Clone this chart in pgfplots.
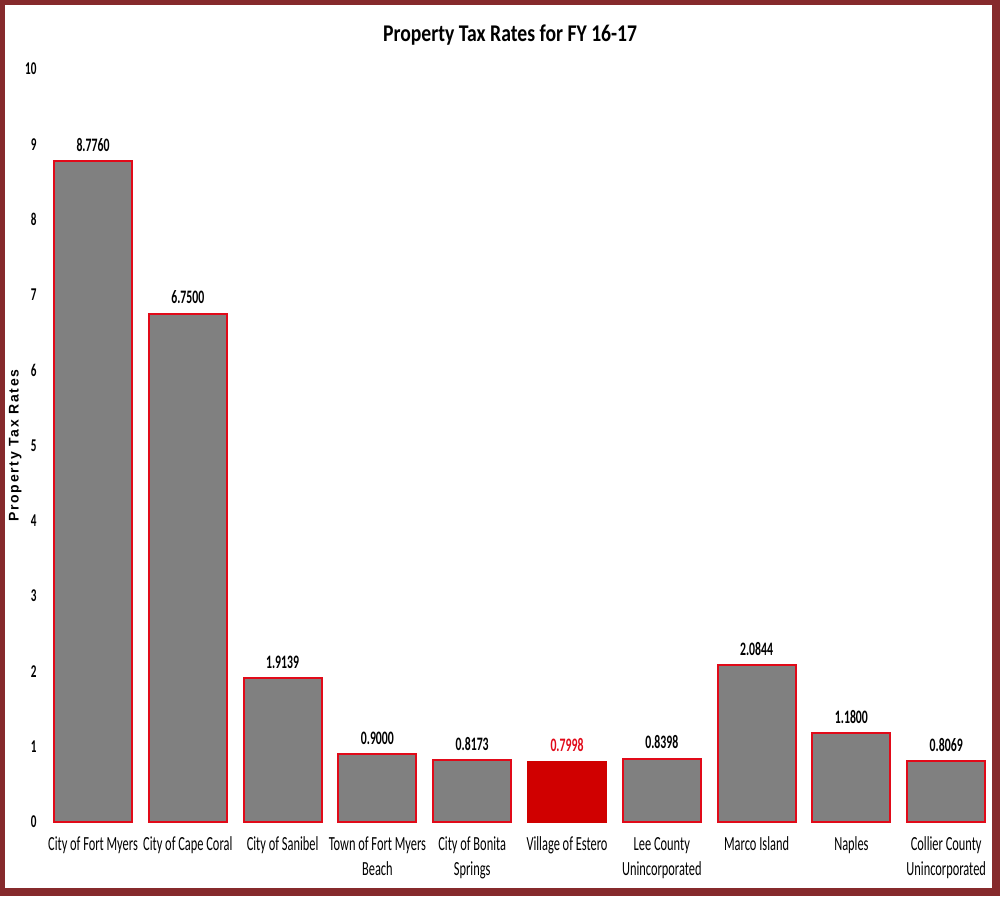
\documentclass[border=0pt]{standalone}
\usepackage{fontspec}
\setmainfont{Carlito}
\newfontfamily\cond{Carlito}[FakeStretch=0.62]
\newfontfamily\condt{Carlito}[FakeStretch=0.82]
\newfontfamily\lab{Liberation Sans}[LetterSpace=12]
\usepackage{pgfplots}
\pgfplotsset{compat=1.18}
\definecolor{frame}{RGB}{134,42,44}
\definecolor{bargray}{RGB}{128,128,128}
\definecolor{edge}{RGB}{225,10,25}
\definecolor{est}{RGB}{208,0,0}
\begin{document}
\begin{tikzpicture}
\fill[frame] (0,0) rectangle (500pt,448pt);
\fill[white] (2.5pt,4pt) rectangle (496pt,445.5pt);
\begin{axis}[
  at={(22.8pt,37pt)}, anchor=south west,
  scale only axis, width=474pt, height=376.5pt,
  xmin=-0.5, xmax=9.5, ymin=0, ymax=10,
  axis line style={draw=none},
  major tick length=0pt,
  ytick={0,1,...,10},
  xtick={0,1,...,9},
  xticklabels={City of Fort Myers, City of Cape Coral, City of Sanibel, Town of Fort Myers\\Beach, City of Bonita\\Springs, Village of Estero, Lee County\\Unincorporated, Marco Island, Naples, Collier County\\Unincorporated},
  xticklabel style={font=\cond\fontsize{10}{12.5}\selectfont, align=center, yshift=-4pt},
  yticklabel style={font=\cond\bfseries\fontsize{9}{10}\selectfont, xshift=-1pt},
  /pgf/number format/assume math mode=true,
  ylabel={Property Tax Rates},
  every axis y label/.style={at={(axis description cs:-0.032,0.5)}, rotate=90, anchor=center, font=\lab\bfseries\fontsize{7}{8}\selectfont},
  ybar, bar width=39pt,
  nodes near coords={\pgfmathprintnumber[fixed,fixed zerofill,precision=4]{\pgfplotspointmeta}},
  nodes near coords style={font=\cond\bfseries\fontsize{9.5}{10}\selectfont, yshift=1pt},
  clip=false,
]
\addplot[fill=bargray, draw=edge, line width=1pt, bar shift=0pt] coordinates {
(0,8.7760) (1,6.7500) (2,1.9139) (3,0.9000) (4,0.8173) (6,0.8398) (7,2.0844) (8,1.1800) (9,0.8069)};
\addplot[fill=est, draw=est, line width=1pt, bar shift=0pt, nodes near coords style={text=edge}] coordinates {(5,0.7998)};
\node[font=\condt\bfseries\fontsize{12}{14}\selectfont, anchor=center] at ([yshift=17pt]axis description cs:0.49,1) {Property Tax Rates for FY 16-17};
\end{axis}
\end{tikzpicture}
\end{document}
